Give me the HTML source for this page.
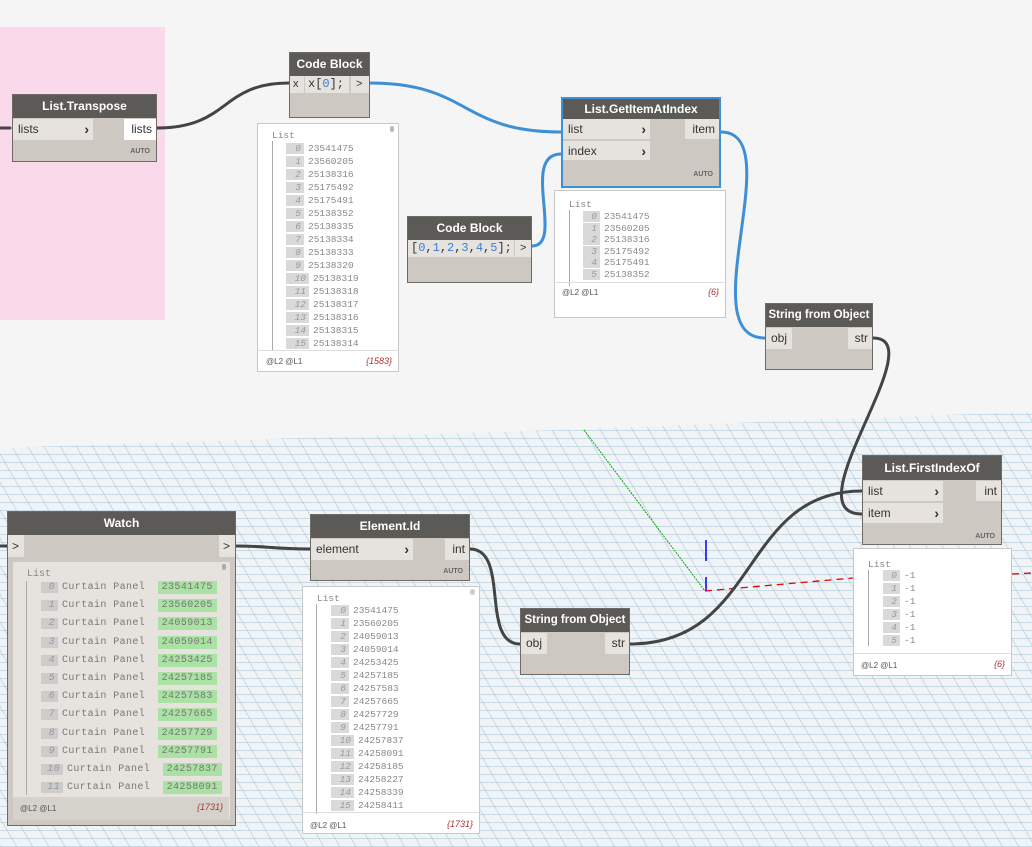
<!DOCTYPE html>
<html><head><meta charset="utf-8"><style>
*{box-sizing:border-box;margin:0;padding:0}
body{width:1032px;height:847px;overflow:hidden;background:#f5f5f5;position:relative;font-family:"Liberation Sans",sans-serif}
.a{position:absolute}
.grid{position:absolute;left:0;top:0;width:1032px;height:847px;
clip-path:polygon(0 448px,300px 438px,560px 430px,860px 418px,1032px 412px,1032px 847px,0 847px);
background:
repeating-linear-gradient(0deg,rgba(150,185,210,.45) 0 1px,transparent 1px 8px),
repeating-linear-gradient(60deg,rgba(120,150,170,.3) 0 1px,transparent 1px 14px),
#f1f4f6}
.node{position:absolute;background:#cdc8c1;border:1px solid #6e6b66}
.hd{background:#5c5a57;color:#fff;font-weight:bold;font-size:12px;text-align:center;height:23px;line-height:23px;white-space:nowrap}
.pin{position:absolute;background:#e6e3de;font-size:12px;color:#333;line-height:20px;padding-left:5px}
.pout{position:absolute;background:#e6e3de;font-size:12px;color:#333;line-height:20px;text-align:right;padding-right:4px}
.chev{position:absolute;right:4px;top:0;font-weight:bold;font-size:14px}
.auto{position:absolute;right:6px;font-size:7px;font-weight:bold;color:#666}
.prev{position:absolute;background:#fff;border:1px solid #c8c8c8;font-family:"Liberation Mono",monospace;font-size:9.5px;color:#888}
.row{position:absolute;white-space:nowrap}
.ix{display:inline-block;background:#d9d9d9;color:#999;font-style:italic;text-align:right;padding-right:3px;margin-right:4px;line-height:11px}
.ft{position:absolute;left:0;right:0;border-top:1px solid #ddd;font-family:"Liberation Sans",sans-serif;font-size:8px;color:#555}
.cnt{position:absolute;right:6px;font-style:italic;color:#a33;font-size:9px}
</style></head><body>
<div class="grid"></div>
<div class="a" style="left:0;top:27px;width:165px;height:293px;background:#fad9ea"></div>

<svg class="a" style="left:0;top:0" width="1032" height="847">
<line x1="584" y1="430" x2="705" y2="591" stroke="#0a0" stroke-width="1" stroke-dasharray="2,1"/>
<line x1="706" y1="540" x2="706" y2="561" stroke="#00f" stroke-width="1.5"/>
<line x1="706" y1="577" x2="706" y2="591" stroke="#00f" stroke-width="1.5"/>
<path d="M705 591 L853 578" stroke="#e00" stroke-width="1.3" stroke-dasharray="7,5"/>
<path d="M1012 574 L1032 573" stroke="#e00" stroke-width="1.3" stroke-dasharray="7,5"/>
<g fill="none" stroke-width="3" stroke-linecap="round">
<path d="M0 128 L10 128" stroke="#444"/>
<path d="M157 128 C230 128 220 83 289 83" stroke="#444"/>
<path d="M370 83 C470 83 460 132 561 132" stroke="#3d8fd6"/>
<path d="M532 246 C565 246 520 154 561 154" stroke="#3d8fd6"/>
<path d="M721 132 C790 132 690 338 765 338" stroke="#3d8fd6"/>
<path d="M873 338 C935 338 790 514 862 514" stroke="#444"/>
<path d="M630 644 C760 644 740 491 862 491" stroke="#444"/>
<path d="M0 546 L7 546" stroke="#444"/>
<path d="M235 546 C270 546 270 549 310 549" stroke="#444"/>
<path d="M470 549 C510 549 480 644 520 644" stroke="#444"/>
</g>
</svg>

<!-- List.Transpose -->
<div class="node" style="left:12px;top:94px;width:145px;height:68px">
<div class="hd">List.Transpose</div>
<div class="pin" style="left:0;top:24px;width:80px;height:21px">lists<span class="chev">›</span></div>
<div class="pout" style="right:0;top:24px;width:32px;height:21px;background:#fff">lists</div>
<div class="auto" style="top:53px">AUTO</div>
</div>

<!-- Code Block 1 -->
<div class="node" style="left:289px;top:52px;width:81px;height:66px">
<div class="hd">Code Block</div>
<div class="pin" style="left:0;top:23px;width:14px;height:17px;padding-left:3px;line-height:17px;font-size:11px">x</div>
<div class="pin" style="left:15px;top:23px;width:44px;height:17px;line-height:17px;font-family:'Liberation Mono',monospace;font-size:12px;padding-left:3px">x[<span style="color:#3a7fd0">0</span>];</div>
<div class="pin" style="left:61px;top:23px;width:18px;height:17px;line-height:17px;font-size:11px">&gt;</div>
</div>
<div class="prev" style="left:257px;top:123px;width:142px;height:249px">
<div class="row" style="left:14px;top:6px">List</div>
<div class="a" style="left:14px;top:17px;width:1px;height:210px;background:#aaa"></div>
<div class="a" style="right:4px;top:2px;width:4px;height:6px;background:#bbb;border-radius:2px"></div>
<div class="row" style="left:28px;top:19px"><span class="ix" style="width:18px">0</span>23541475</div>
<div class="row" style="left:28px;top:32px"><span class="ix" style="width:18px">1</span>23560205</div>
<div class="row" style="left:28px;top:45px"><span class="ix" style="width:18px">2</span>25138316</div>
<div class="row" style="left:28px;top:58px"><span class="ix" style="width:18px">3</span>25175492</div>
<div class="row" style="left:28px;top:71px"><span class="ix" style="width:18px">4</span>25175491</div>
<div class="row" style="left:28px;top:84px"><span class="ix" style="width:18px">5</span>25138352</div>
<div class="row" style="left:28px;top:97px"><span class="ix" style="width:18px">6</span>25138335</div>
<div class="row" style="left:28px;top:110px"><span class="ix" style="width:18px">7</span>25138334</div>
<div class="row" style="left:28px;top:123px"><span class="ix" style="width:18px">8</span>25138333</div>
<div class="row" style="left:28px;top:136px"><span class="ix" style="width:18px">9</span>25138320</div>
<div class="row" style="left:28px;top:149px"><span class="ix" style="width:23px">10</span>25138319</div>
<div class="row" style="left:28px;top:162px"><span class="ix" style="width:23px">11</span>25138318</div>
<div class="row" style="left:28px;top:175px"><span class="ix" style="width:23px">12</span>25138317</div>
<div class="row" style="left:28px;top:188px"><span class="ix" style="width:23px">13</span>25138316</div>
<div class="row" style="left:28px;top:201px"><span class="ix" style="width:23px">14</span>25138315</div>
<div class="row" style="left:28px;top:214px"><span class="ix" style="width:23px">15</span>25138314</div>
<div class="ft" style="top:226px;height:22px"><span class="a" style="left:8px;top:6px">@L2 @L1</span><span class="cnt" style="top:5px">{1583}</span></div>
</div>

<!-- Code Block 2 -->
<div class="node" style="left:407px;top:216px;width:125px;height:67px">
<div class="hd">Code Block</div>
<div class="pin" style="left:0;top:23px;width:106px;height:17px;line-height:17px;font-family:'Liberation Mono',monospace;font-size:12px;padding-left:3px">[<span style="color:#3a7fd0">0</span>,<span style="color:#3a7fd0">1</span>,<span style="color:#3a7fd0">2</span>,<span style="color:#3a7fd0">3</span>,<span style="color:#3a7fd0">4</span>,<span style="color:#3a7fd0">5</span>];</div>
<div class="pin" style="left:107px;top:23px;width:16px;height:17px;line-height:17px;font-size:11px">&gt;</div>
</div>

<!-- GetItemAtIndex -->
<div class="node" style="left:561px;top:97px;width:160px;height:91px;border:2px solid #3d8fd6">
<div class="hd" style="height:20px;line-height:20px">List.GetItemAtIndex</div>
<div class="pin" style="left:0;top:20px;width:87px;height:20px">list<span class="chev">›</span></div>
<div class="pin" style="left:0;top:42px;width:87px;height:19px">index<span class="chev">›</span></div>
<div class="pout" style="right:0;top:20px;width:34px;height:20px">item</div>
<div class="auto" style="top:72px">AUTO</div>
</div>
<div class="prev" style="left:554px;top:190px;width:172px;height:128px">
<div class="row" style="left:14px;top:8px">List</div>
<div class="a" style="left:14px;top:19px;width:1px;height:76px;background:#aaa"></div>
<div class="row" style="left:28px;top:20px"><span class="ix" style="width:17px">0</span>23541475</div>
<div class="row" style="left:28px;top:31.5px"><span class="ix" style="width:17px">1</span>23560205</div>
<div class="row" style="left:28px;top:43px"><span class="ix" style="width:17px">2</span>25138316</div>
<div class="row" style="left:28px;top:54.5px"><span class="ix" style="width:17px">3</span>25175492</div>
<div class="row" style="left:28px;top:66px"><span class="ix" style="width:17px">4</span>25175491</div>
<div class="row" style="left:28px;top:77.5px"><span class="ix" style="width:17px">5</span>25138352</div>
<div class="ft" style="top:91px;height:36px"><span class="a" style="left:7px;top:5px">@L2 @L1</span><span class="cnt" style="top:4px">{6}</span></div>
</div>

<!-- String from Object 1 -->
<div class="node" style="left:765px;top:303px;width:108px;height:67px">
<div class="hd" style="font-size:11.5px">String from Object</div>
<div class="pin" style="left:0;top:24px;width:26px;height:21px">obj</div>
<div class="pout" style="right:0;top:24px;width:24px;height:21px">str</div>
</div>

<!-- List.FirstIndexOf -->
<div class="node" style="left:862px;top:455px;width:140px;height:90px">
<div class="hd" style="height:24px;line-height:24px">List.FirstIndexOf</div>
<div class="pin" style="left:0;top:25px;width:80px;height:20px">list<span class="chev">›</span></div>
<div class="pin" style="left:0;top:47px;width:80px;height:20px">item<span class="chev">›</span></div>
<div class="pout" style="right:0;top:25px;width:25px;height:20px">int</div>
<div class="auto" style="top:77px">AUTO</div>
</div>
<div class="prev" style="left:853px;top:548px;width:159px;height:128px">
<div class="row" style="left:14px;top:10px">List</div>
<div class="a" style="left:14px;top:21px;width:1px;height:76px;background:#aaa"></div>
<div class="row" style="left:29px;top:21px"><span class="ix" style="width:17px">0</span>-1</div>
<div class="row" style="left:29px;top:34px"><span class="ix" style="width:17px">1</span>-1</div>
<div class="row" style="left:29px;top:47px"><span class="ix" style="width:17px">2</span>-1</div>
<div class="row" style="left:29px;top:60px"><span class="ix" style="width:17px">3</span>-1</div>
<div class="row" style="left:29px;top:73px"><span class="ix" style="width:17px">4</span>-1</div>
<div class="row" style="left:29px;top:86px"><span class="ix" style="width:17px">5</span>-1</div>
<div class="ft" style="top:104px;height:23px"><span class="a" style="left:7px;top:7px">@L2 @L1</span><span class="cnt" style="top:5px">{6}</span></div>
</div>

<!-- Watch -->
<div class="node" style="left:7px;top:511px;width:229px;height:315px">
<div class="hd">Watch</div>
<div class="pin" style="left:0;top:23px;width:16px;height:22px;line-height:22px;padding-left:4px">&gt;</div>
<div class="pin" style="right:0;top:23px;width:16px;height:22px;line-height:22px;padding-left:4px">&gt;</div>
<div class="a" style="left:5px;top:50px;width:217px;height:258px;background:#e6e3de;font-family:'Liberation Mono',monospace;font-size:10px;color:#888;border-bottom:1px solid #d5d1cb">
<div class="row" style="left:14px;top:7px">List</div>
<div class="a" style="left:13px;top:19px;width:1px;height:214px;background:#aaa"></div>
<div class="a" style="right:4px;top:2px;width:4px;height:6px;background:#aaa;border-radius:2px"></div>
</div>
<div class="ft" style="top:285px;height:22px;border-top:none;background:#d5d1cb;left:5px;right:6px"><span class="a" style="left:7px;top:7px">@L2 @L1</span><span class="cnt" style="top:5px">{1731}</span></div>
</div>
<div class="a" style="left:41px;top:582px;font-family:'Liberation Mono',monospace;font-size:10px;color:#777;letter-spacing:0.4px">
<div class="row" style="top:0"><span class="ix" style="width:17px;background:#ccc">0</span>Curtain Panel <span style="background:#a9e2a3;padding:1px 4px;margin-left:6px">23541475</span></div>
<div class="row" style="top:18.2px"><span class="ix" style="width:17px;background:#ccc">1</span>Curtain Panel <span style="background:#a9e2a3;padding:1px 4px;margin-left:6px">23560205</span></div>
<div class="row" style="top:36.4px"><span class="ix" style="width:17px;background:#ccc">2</span>Curtain Panel <span style="background:#a9e2a3;padding:1px 4px;margin-left:6px">24059013</span></div>
<div class="row" style="top:54.6px"><span class="ix" style="width:17px;background:#ccc">3</span>Curtain Panel <span style="background:#a9e2a3;padding:1px 4px;margin-left:6px">24059014</span></div>
<div class="row" style="top:72.8px"><span class="ix" style="width:17px;background:#ccc">4</span>Curtain Panel <span style="background:#a9e2a3;padding:1px 4px;margin-left:6px">24253425</span></div>
<div class="row" style="top:91px"><span class="ix" style="width:17px;background:#ccc">5</span>Curtain Panel <span style="background:#a9e2a3;padding:1px 4px;margin-left:6px">24257185</span></div>
<div class="row" style="top:109.2px"><span class="ix" style="width:17px;background:#ccc">6</span>Curtain Panel <span style="background:#a9e2a3;padding:1px 4px;margin-left:6px">24257583</span></div>
<div class="row" style="top:127.4px"><span class="ix" style="width:17px;background:#ccc">7</span>Curtain Panel <span style="background:#a9e2a3;padding:1px 4px;margin-left:6px">24257665</span></div>
<div class="row" style="top:145.6px"><span class="ix" style="width:17px;background:#ccc">8</span>Curtain Panel <span style="background:#a9e2a3;padding:1px 4px;margin-left:6px">24257729</span></div>
<div class="row" style="top:163.8px"><span class="ix" style="width:17px;background:#ccc">9</span>Curtain Panel <span style="background:#a9e2a3;padding:1px 4px;margin-left:6px">24257791</span></div>
<div class="row" style="top:182px"><span class="ix" style="width:22px;background:#ccc">10</span>Curtain Panel <span style="background:#a9e2a3;padding:1px 4px;margin-left:6px">24257837</span></div>
<div class="row" style="top:200.2px"><span class="ix" style="width:22px;background:#ccc">11</span>Curtain Panel <span style="background:#a9e2a3;padding:1px 4px;margin-left:6px">24258091</span></div>
</div>

<!-- Element.Id -->
<div class="node" style="left:310px;top:514px;width:160px;height:67px">
<div class="hd">Element.Id</div>
<div class="pin" style="left:0;top:24px;width:102px;height:21px">element<span class="chev">›</span></div>
<div class="pout" style="right:0;top:24px;width:24px;height:21px">int</div>
<div class="auto" style="top:53px">AUTO</div>
</div>
<div class="prev" style="left:302px;top:586px;width:178px;height:248px">
<div class="row" style="left:14px;top:6px">List</div>
<div class="a" style="left:13px;top:17px;width:1px;height:210px;background:#aaa"></div>
<div class="a" style="right:4px;top:2px;width:5px;height:6px;background:#ccc;border-radius:3px"></div>
<div class="row" style="left:28px;top:18px"><span class="ix" style="width:18px">0</span>23541475</div>
<div class="row" style="left:28px;top:31px"><span class="ix" style="width:18px">1</span>23560205</div>
<div class="row" style="left:28px;top:44px"><span class="ix" style="width:18px">2</span>24059013</div>
<div class="row" style="left:28px;top:57px"><span class="ix" style="width:18px">3</span>24059014</div>
<div class="row" style="left:28px;top:70px"><span class="ix" style="width:18px">4</span>24253425</div>
<div class="row" style="left:28px;top:83px"><span class="ix" style="width:18px">5</span>24257185</div>
<div class="row" style="left:28px;top:96px"><span class="ix" style="width:18px">6</span>24257583</div>
<div class="row" style="left:28px;top:109px"><span class="ix" style="width:18px">7</span>24257665</div>
<div class="row" style="left:28px;top:122px"><span class="ix" style="width:18px">8</span>24257729</div>
<div class="row" style="left:28px;top:135px"><span class="ix" style="width:18px">9</span>24257791</div>
<div class="row" style="left:28px;top:148px"><span class="ix" style="width:23px">10</span>24257837</div>
<div class="row" style="left:28px;top:161px"><span class="ix" style="width:23px">11</span>24258091</div>
<div class="row" style="left:28px;top:174px"><span class="ix" style="width:23px">12</span>24258185</div>
<div class="row" style="left:28px;top:187px"><span class="ix" style="width:23px">13</span>24258227</div>
<div class="row" style="left:28px;top:200px"><span class="ix" style="width:23px">14</span>24258339</div>
<div class="row" style="left:28px;top:213px"><span class="ix" style="width:23px">15</span>24258411</div>
<div class="ft" style="top:225px;height:22px"><span class="a" style="left:7px;top:8px">@L2 @L1</span><span class="cnt" style="top:6px">{1731}</span></div>
</div>

<!-- String from Object 2 -->
<div class="node" style="left:520px;top:608px;width:110px;height:67px">
<div class="hd" style="font-size:11.5px">String from Object</div>
<div class="pin" style="left:0;top:24px;width:26px;height:21px">obj</div>
<div class="pout" style="right:0;top:24px;width:24px;height:21px">str</div>
</div>
</body></html>
